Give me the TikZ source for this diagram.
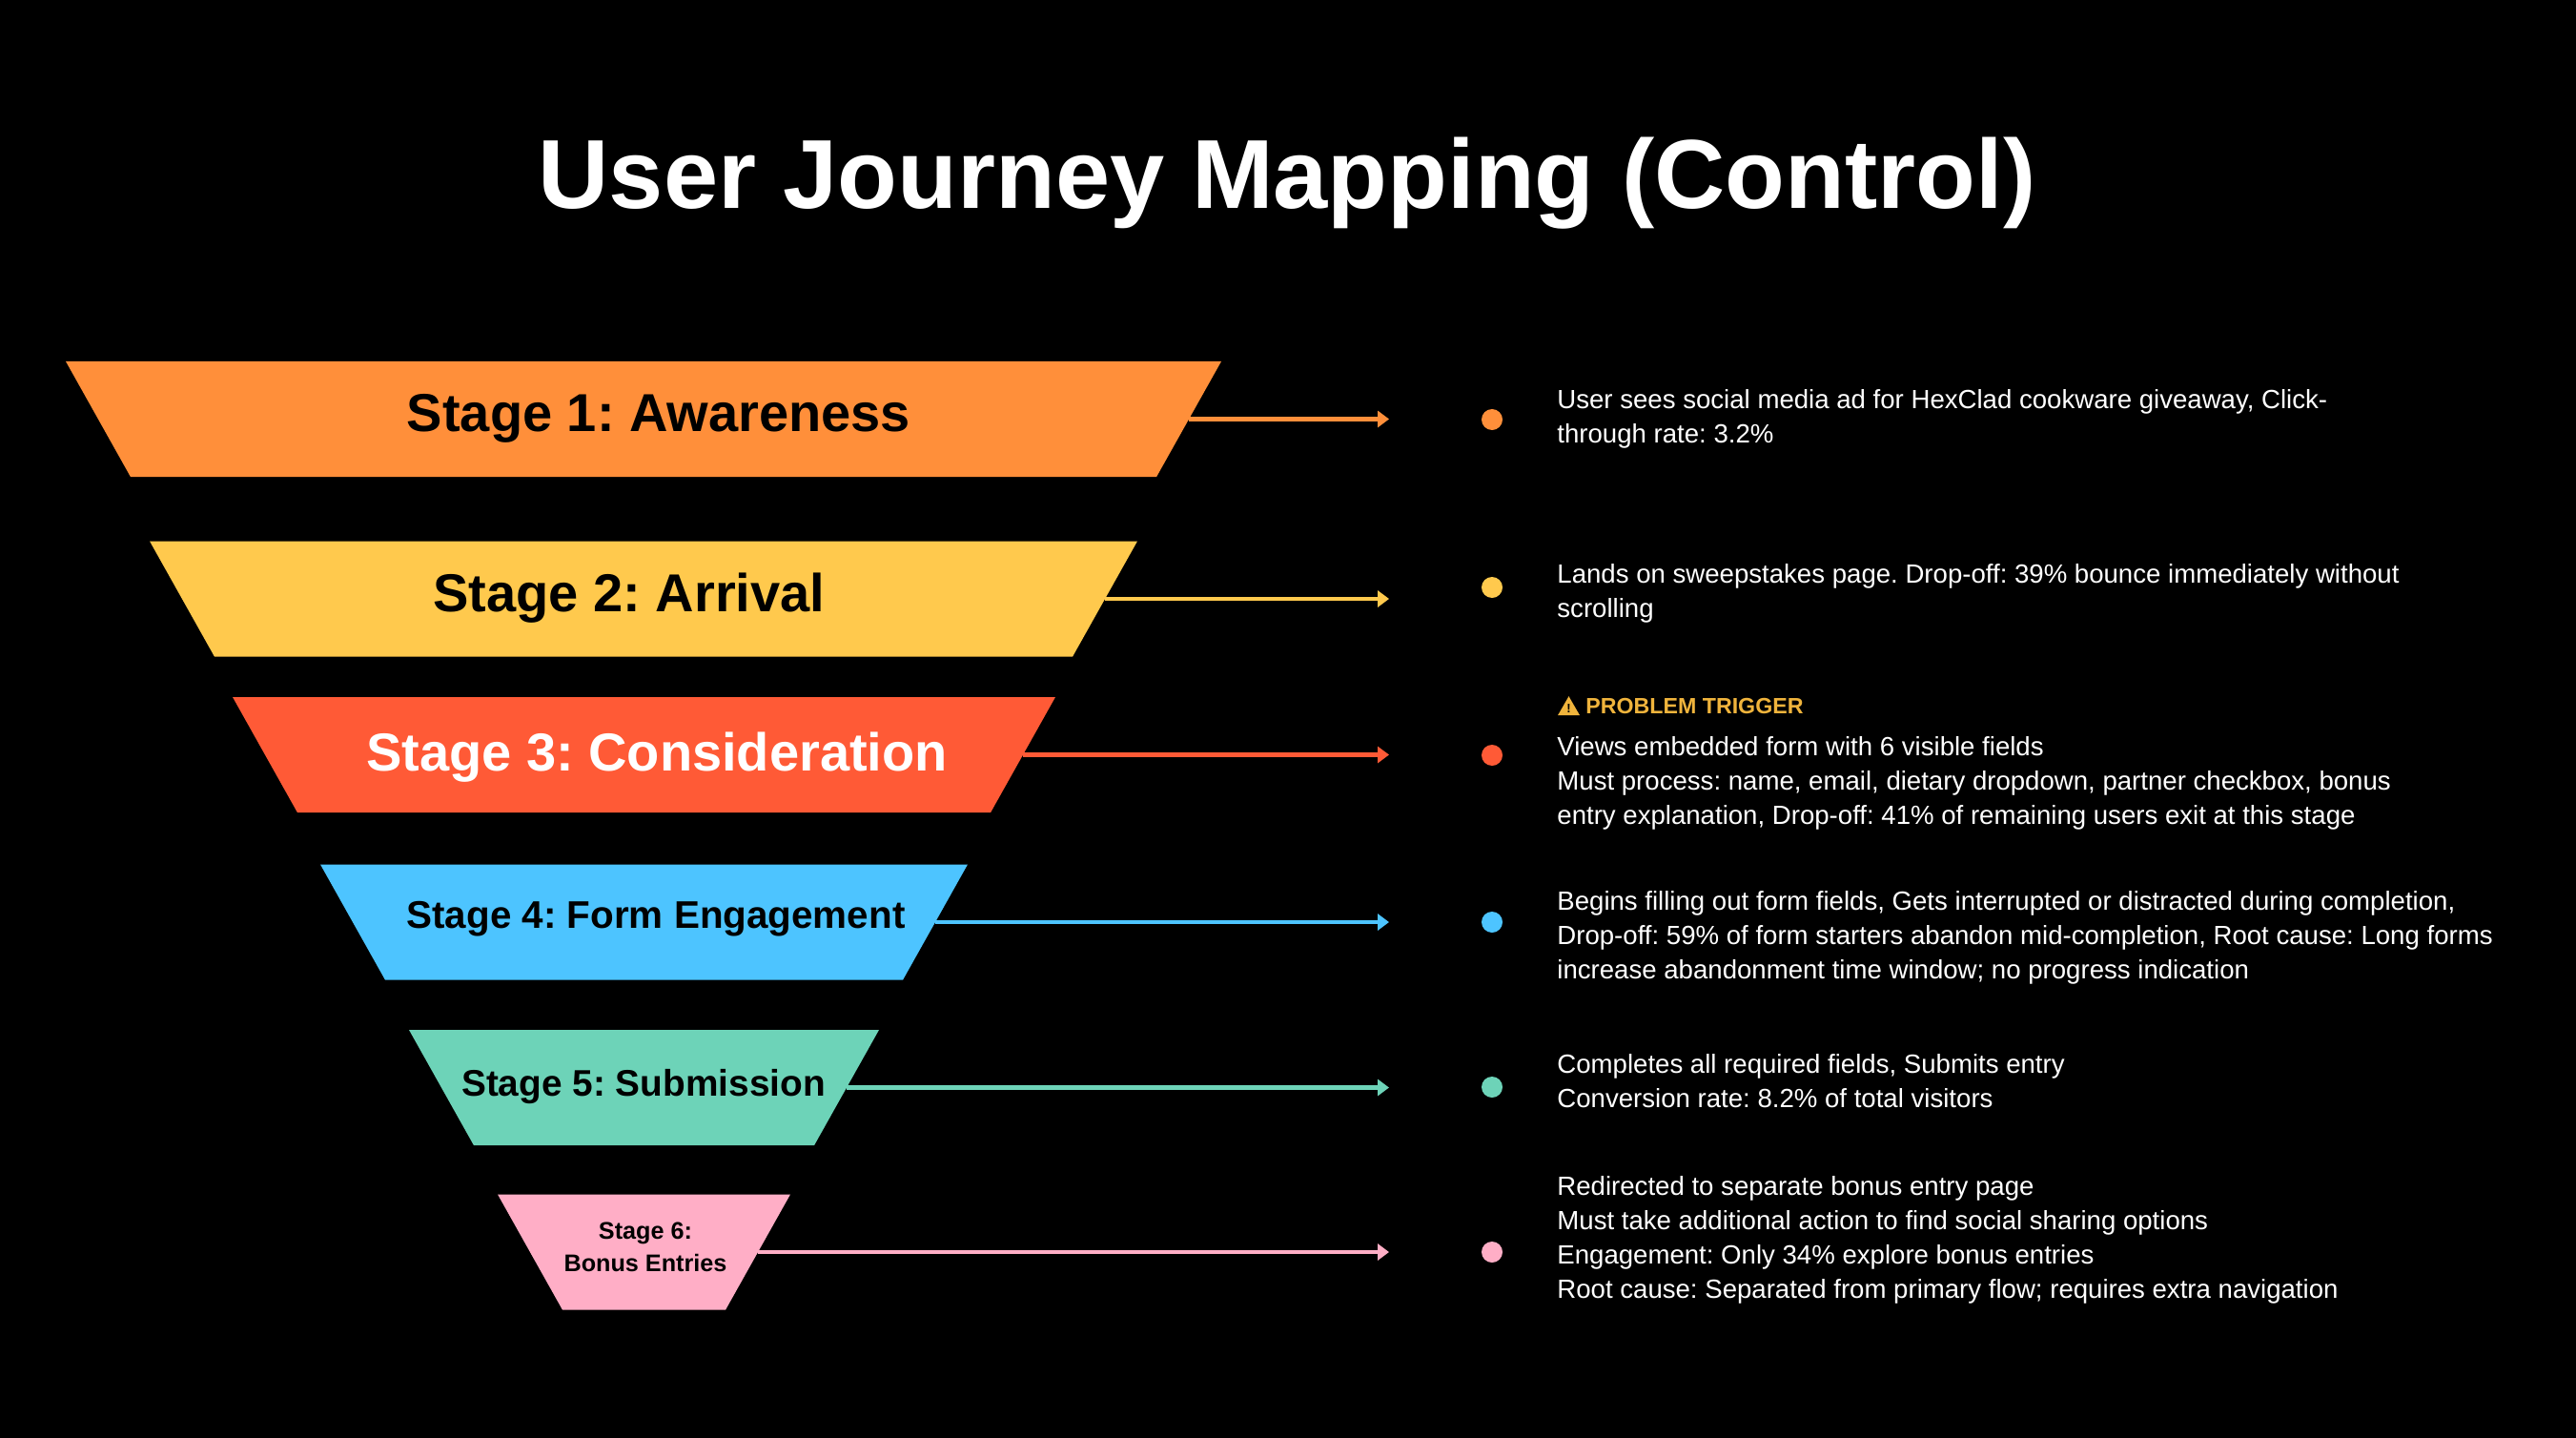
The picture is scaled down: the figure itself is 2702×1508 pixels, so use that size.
\documentclass[tikz,border=0pt]{standalone}
\usepackage{fontspec}
\setmainfont{Liberation Sans}
\usepackage{xcolor}
\usetikzlibrary{arrows.meta,shapes.geometric}
\definecolor{st-orange}{HTML}{FF8F3A}
\definecolor{st-yellow}{HTML}{FFC94D}
\definecolor{st-red}{HTML}{FF5A36}
\definecolor{st-blue}{HTML}{4DC4FF}
\definecolor{st-green}{HTML}{6DD3B8}
\definecolor{st-pink}{HTML}{FFAEC6}
\definecolor{warn}{HTML}{F0B43C}
\frenchspacing
\tikzset{
  funnel/.style={trapezium,trapezium angle=60.7,trapezium stretches body=true,shape border rotate=180,inner xsep=1pt,inner ysep=30.25pt,outer sep=0pt,fill=#1},
  stagelabel/.style={inner sep=0pt,align=center,text=black,font=\bfseries\fontsize{#1}{#1}\selectfont},
  flow/.style={-{Triangle[length=6pt,width=8.5pt]},line width=2.2pt,draw=#1},
  bullet/.style={circle,minimum size=11pt,inner sep=0pt,fill=#1},
  note/.style={anchor=west,inner sep=0pt,align=left,text=white,font=\fontsize{13.8}{18}\selectfont},
}
\begin{document}
\begin{tikzpicture}[x=0.5pt,y=-0.5pt]
\fill[black] (0,0) rectangle (2702,1508);
\useasboundingbox (0,0) rectangle (2702,1508);
\node[inner sep=0pt,text=white,font=\bfseries\fontsize{51.4}{51.4}\selectfont] (title) at (1350,192) {User Journey Mapping (Control)};
\node[funnel=st-orange,minimum width=606pt] (stage-1) at (675,439.5) {};
\node[funnel=st-yellow,minimum width=518pt] (stage-2) at (675,628) {};
\node[funnel=st-red,minimum width=431.5pt] (stage-3) at (675.5,791.5) {};
\node[funnel=st-blue,minimum width=339.5pt] (stage-4) at (675.5,967) {};
\node[funnel=st-green,minimum width=246.5pt] (stage-5) at (675.5,1140.5) {};
\node[funnel=st-pink,minimum width=153.5pt] (stage-6) at (675.5,1313) {};
\node[stagelabel=28] (label-1) at (691,439) {Stage 1: Awareness};
\node[stagelabel=28] (label-2) at (660,627) {Stage 2: Arrival};
\node[stagelabel=28,text=white] (label-3) at (689,794) {Stage 3: Consideration};
\node[stagelabel=20.2] (label-4) at (688,964) {Stage 4: Form Engagement};
\node[stagelabel=19.4] (label-5) at (675,1140) {Stage 5: Submission};
\node[stagelabel=12.6,font=\bfseries\fontsize{12.6}{17}\selectfont] (label-6) at (677,1308) {Stage 6:\\Bonus Entries};
\coordinate (end-1) at (1457,439.5);
\coordinate (end-2) at (1457,628);
\coordinate (end-3) at (1457,791.5);
\coordinate (end-4) at (1457,967);
\coordinate (end-5) at (1457,1140.5);
\coordinate (end-6) at (1457,1313);
\draw[flow=st-orange] (stage-1.east) -- (end-1);
\draw[flow=st-yellow] (stage-2.east) -- (end-2);
\draw[flow=st-red] (stage-3.east) -- (end-3);
\draw[flow=st-blue] (stage-4.east) -- (end-4);
\draw[flow=st-green] (stage-5.east) -- (end-5);
\draw[flow=st-pink] (stage-6.east) -- (end-6);
\node[bullet=st-orange] (dot-1) at (1565,440) {};
\node[bullet=st-yellow] (dot-2) at (1565,616) {};
\node[bullet=st-red] (dot-3) at (1565,792) {};
\node[bullet=st-blue] (dot-4) at (1565,967) {};
\node[bullet=st-green] (dot-5) at (1565,1140) {};
\node[bullet=st-pink] (dot-6) at (1565,1313) {};
\node[note] (note-1) at (1633,439) {User sees social media ad for HexClad cookware giveaway, Click-\\through rate: 3.2\%};
\node[note] (note-2) at (1633,622) {Lands on sweepstakes page. Drop-off: 39\% bounce immediately without\\scrolling};
\node[regular polygon,regular polygon sides=3,minimum size=13.3pt,inner sep=0pt,fill=warn,text=black,font=\bfseries\fontsize{6.5}{6.5}\selectfont] (warn-icon) at (1645.5,743.5) {!};
\node[note,text=warn,font=\bfseries\fontsize{11.6}{15}\selectfont] (warning) at (1663,741) {PROBLEM TRIGGER};
\node[note] (note-3) at (1633,821) {Views embedded form with 6 visible fields\\Must process: name, email, dietary dropdown, partner checkbox, bonus\\entry explanation, Drop-off: 41\% of remaining users exit at this stage};
\node[note] (note-4) at (1633,983) {Begins filling out form fields, Gets interrupted or distracted during completion,\\Drop-off: 59\% of form starters abandon mid-completion, Root cause: Long forms\\increase abandonment time window; no progress indication};
\node[note] (note-5) at (1633,1134) {Completes all required fields, Submits entry\\Conversion rate: 8.2\% of total visitors};
\node[note] (note-6) at (1633,1300) {Redirected to separate bonus entry page\\Must take additional action to find social sharing options\\Engagement: Only 34\% explore bonus entries\\Root cause: Separated from primary flow; requires extra navigation};
\end{tikzpicture}
\end{document}
